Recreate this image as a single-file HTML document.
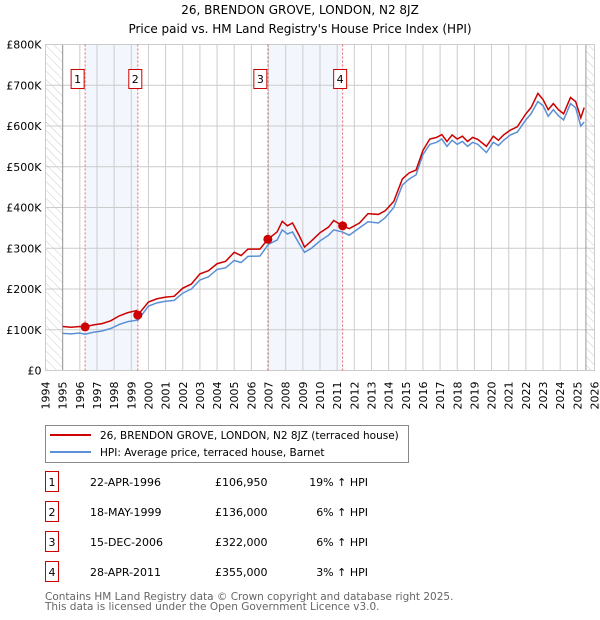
<!DOCTYPE html>
<html><head><meta charset="utf-8"><style>
body{margin:0;background:#fff;}
svg{display:block;font-family:"DejaVu Sans","Liberation Sans",sans-serif;}
</style></head><body>
<svg id="c" width="600" height="620" viewBox="0 0 600 620" xmlns="http://www.w3.org/2000/svg">
<defs><pattern id="hatch" width="6" height="6" patternUnits="userSpaceOnUse" patternTransform="rotate(-45)"><line x1="0" y1="0" x2="0" y2="6" stroke="#ccc" stroke-width="1"/></pattern></defs>
<text x="300" y="14" text-anchor="middle" font-size="12">26, BRENDON GROVE, LONDON, N2 8JZ</text>
<text x="300" y="33" text-anchor="middle" font-size="12">Price paid vs. HM Land Registry's House Price Index (HPI)</text>
<g id="plot"></g>
<g>
<rect x="45.5" y="425.5" width="363" height="37" fill="#fff" stroke="#888"/>
<line x1="50" y1="435" x2="91" y2="435" stroke="#cc0000" stroke-width="2"/>
<text x="100" y="439" font-size="10.5">26, BRENDON GROVE, LONDON, N2 8JZ (terraced house)</text>
<line x1="50" y1="452" x2="91" y2="452" stroke="#5b8fd6" stroke-width="2"/>
<text x="100" y="456" font-size="10.5">HPI: Average price, terraced house, Barnet</text>
</g>
<g id="table" font-size="11"></g>
<text x="45" y="600" font-size="10.5" fill="#666">Contains HM Land Registry data © Crown copyright and database right 2025.</text>
<text x="45" y="610" font-size="10.5" fill="#666">This data is licensed under the Open Government Licence v3.0.</text>
</svg>
<script>
const hpiYears=[1995,1995.5,1996,1996.3,1996.8,1997.3,1997.8,1998.3,1998.8,1999.4,2000,2000.5,2001,2001.5,2002,2002.5,2003,2003.5,2004,2004.5,2005,2005.4,2005.8,2006.5,2007,2007.5,2007.8,2008.1,2008.4,2008.8,2009.1,2009.5,2010,2010.5,2010.8,2011.3,2011.7,2012.3,2012.8,2013.4,2013.8,2014.3,2014.8,2015.2,2015.6,2016,2016.4,2016.8,2017.1,2017.4,2017.7,2018,2018.3,2018.6,2018.9,2019.2,2019.7,2020.1,2020.4,2020.7,2021.1,2021.5,2022,2022.3,2022.7,2023,2023.3,2023.6,2023.9,2024.2,2024.6,2024.9,2025.2,2025.4];
const hpiValues=[91,90,92,89,94,97,103,113,120,124,158,166,170,172,190,200,222,230,248,252,270,265,280,281,310,320,345,335,340,310,290,300,318,332,345,340,332,350,365,362,375,400,455,470,480,530,555,560,568,550,565,555,562,550,560,555,535,560,552,565,578,585,615,630,660,650,624,640,625,615,655,645,600,610];
const redYears=[1995,1995.5,1996,1996.3,1996.8,1997.3,1997.8,1998.3,1998.8,1999.3,1999.38,2000,2000.5,2001,2001.5,2002,2002.5,2003,2003.5,2004,2004.5,2005,2005.4,2005.8,2006.5,2006.96,2007.5,2007.8,2008.1,2008.4,2008.8,2009.1,2009.5,2010,2010.5,2010.8,2011.32,2011.7,2012.3,2012.8,2013.4,2013.8,2014.3,2014.8,2015.2,2015.6,2016,2016.4,2016.8,2017.1,2017.4,2017.7,2018,2018.3,2018.6,2018.9,2019.2,2019.7,2020.1,2020.4,2020.7,2021.1,2021.5,2022,2022.3,2022.7,2023,2023.3,2023.6,2023.9,2024.2,2024.6,2024.9,2025.2,2025.4];
const redValues=[108,106,108,107,112,115,122,134,142,147,136,168,176,180,182,202,212,237,245,262,268,290,282,298,298,322,340,366,355,362,330,303,318,338,352,368,355,348,362,385,383,392,415,470,485,492,540,568,572,579,562,578,568,575,562,572,567,550,575,565,578,590,598,630,645,680,665,640,655,640,630,670,660,620,645];
const saleYears=[1996.31,1999.38,2006.96,2011.32];
const saleValues=[106.95,136,322,355];
const saleLabels=["1","2","3","4"];
const saleDates=["22-APR-1996","18-MAY-1999","15-DEC-2006","28-APR-2011"];
const salePrices=["£106,950","£136,000","£322,000","£355,000"];
const saleHpi=["19% ↑ HPI","6% ↑ HPI","6% ↑ HPI","3% ↑ HPI"];
const yTicks=[0,100,200,300,400,500,600,700,800];
const yTickLabels=["£0","£100K","£200K","£300K","£400K","£500K","£600K","£700K","£800K"];
const xTicks=[1994,1995,1996,1997,1998,1999,2000,2001,2002,2003,2004,2005,2006,2007,2008,2009,2010,2011,2012,2013,2014,2015,2016,2017,2018,2019,2020,2021,2022,2023,2024,2025,2026];

const NS="http://www.w3.org/2000/svg";
const X0=45.5,X1=594.5,Y0=370.5,Y1=44.5;
const xs=y=>X0+(y-1994)/32*(X1-X0);
const ys=v=>Y0-v/800*(Y0-Y1);
const plot=document.getElementById('plot');
function mk(tag,attrs,parent){const e=document.createElementNS(NS,tag);for(const k in attrs)e.setAttribute(k,attrs[k]);(parent||plot).appendChild(e);return e;}
const s1=mk('rect',{x:xs(saleYears[0]),y:Y1,width:xs(saleYears[1])-xs(saleYears[0]),height:Y0-Y1,fill:'#f3f6fd'});


const s2=mk('rect',{x:xs(saleYears[2]),y:Y1,width:xs(saleYears[3])-xs(saleYears[2]),height:Y0-Y1,fill:'#f3f6fd'});


const h1=mk('rect',{x:X0,y:Y1,width:xs(1995)-X0,height:Y0-Y1,fill:'url(#hatch)'});


const h2=mk('rect',{x:xs(2025.5),y:Y1,width:X1-xs(2025.5),height:Y0-Y1,fill:'url(#hatch)'});


yTicks.forEach((t,i)=>{
  const g=mk('line',{x1:X0,x2:X1,y1:ys(t),y2:ys(t),stroke:'#ccc'});
  
  
  const l=mk('text',{x:X0-4,y:ys(t)+4,'text-anchor':'end','font-size':11});
  
  
  l.textContent=yTickLabels[i];
});
xTicks.forEach(t=>{
  const g=mk('line',{x1:xs(t),x2:xs(t),y1:Y1,y2:Y0,stroke:'#ccc'});
  
  
  const l=mk('text',{x:0,y:0,'text-anchor':'end','font-size':11,transform:`translate(${xs(t)+4},${Y0+11}) rotate(-90)`});
  
  
  l.textContent=t;
});
mk('line',{x1:xs(1995),x2:xs(1995),y1:Y1,y2:Y0,stroke:'#999'});
mk('line',{x1:xs(2025.5),x2:xs(2025.5),y1:Y1,y2:Y0,stroke:'#999'});
const border=mk('rect',{x:X0,y:Y1,width:X1-X0,height:Y0-Y1,fill:'none',stroke:'#ccc'});


saleYears.forEach((sy,i)=>{
  const v=mk('line',{x1:xs(sy),x2:xs(sy),y1:Y1,y2:Y0,stroke:'#ee6666','stroke-dasharray':'2,2'});
  
  
});
const hp=mk('polyline',{points:hpiYears.map((y,i)=>xs(y)+','+ys(hpiValues[i])).join(' '),fill:'none',stroke:'#5b8fd6','stroke-width':1.5});


const rp=mk('polyline',{points:redYears.map((y,i)=>xs(y)+','+ys(redValues[i])).join(' '),fill:'none',stroke:'#cc0000','stroke-width':1.5});


saleYears.forEach((sy,i)=>{
  const d=mk('circle',{cx:xs(sy),cy:ys(saleValues[i]),r:4.5,fill:'#cc0000'});
  
  
  const lx=[xs(sy)-13,xs(sy)-8,xs(sy)-13,xs(sy)-8][i];
  const b=mk('rect',{x:lx-1,y:69.5,width:13,height:19,fill:'#fff',stroke:'#cc0000'});
  
  
  const t=mk('text',{x:lx+5.5,y:83,'text-anchor':'middle','font-size':11});
  
  
  t.textContent=saleLabels[i];
});
const tb=document.getElementById('table');
saleLabels.forEach((s,i)=>{
  const y=482+i*30;
  const r=mk('rect',{x:45.5,y:y-10.5,width:13,height:20,fill:'#fff',stroke:'#cc0000'},tb);
  
  
  const cells=[[52,s,'middle'],[90,saleDates[i],'start'],[215,salePrices[i],'start'],[368,saleHpi[i],'end']];
  cells.forEach(c=>{
    const t=mk('text',{x:c[0],y:y+4,'text-anchor':c[2]},tb);
    
    
    t.textContent=c[1];
  });
});
</script>
</body></html>
